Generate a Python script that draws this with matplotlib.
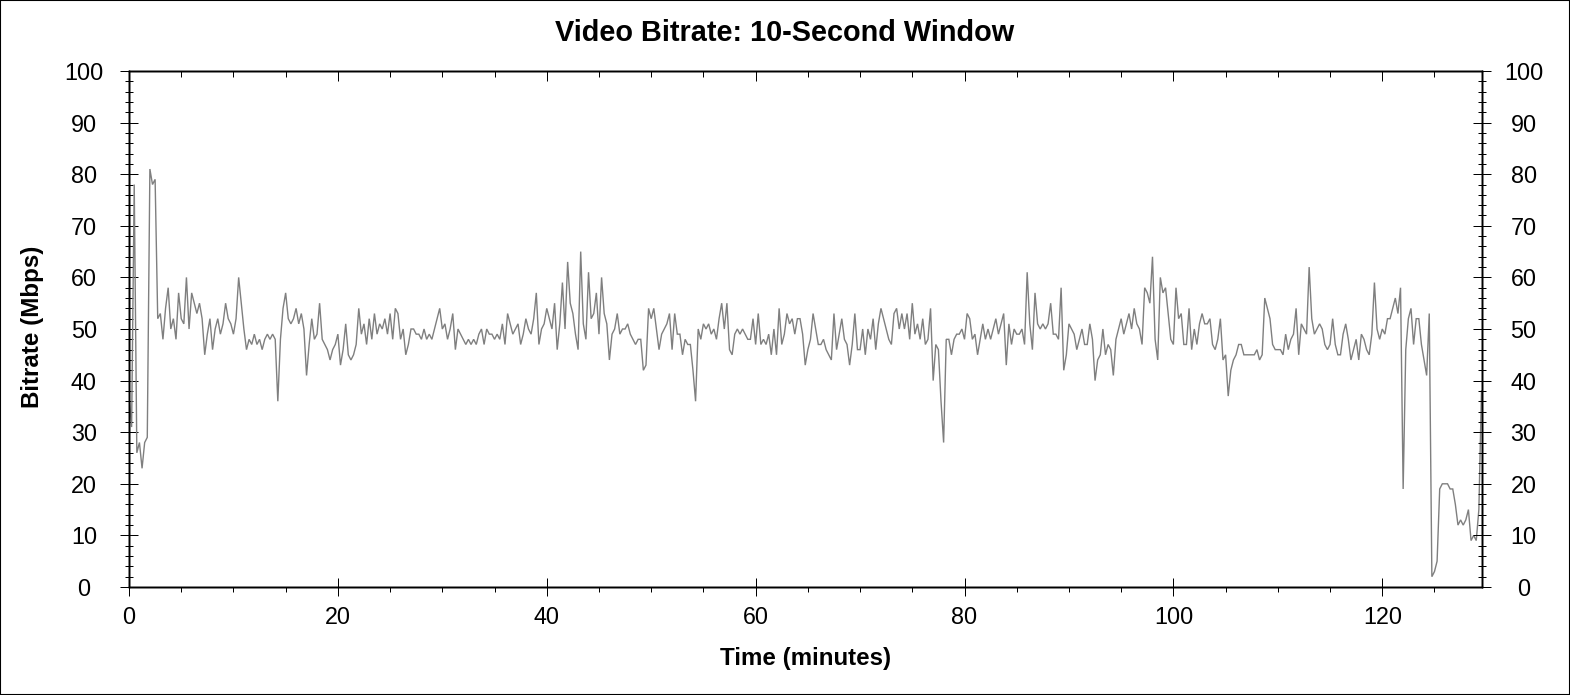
import numpy as np
import matplotlib
matplotlib.use("Agg")
import matplotlib.pyplot as plt
from matplotlib.ticker import MultipleLocator
from matplotlib.patches import Rectangle

plt.rcParams['font.family'] = ['Liberation Sans', 'DejaVu Sans']

# ---- data: 10-second-window bitrate (Mbps), sampled every 0.25 minute ----
step_minutes = 0.25
bitrate_00_10 = [37, 31, 78, 26, 28, 23, 28, 29, 81, 78, 79, 52, 53, 48, 54, 58,
                 50, 52, 48, 57, 52, 51, 60, 50, 57, 55, 53, 55, 52, 45, 49, 52,
                 46, 50, 52, 49, 51, 55, 52, 51]
bitrate_10_20 = [49, 52, 60, 55, 50, 46, 48, 47, 49, 47, 48, 46, 48, 49, 48, 49,
                 48, 36, 48, 54, 57, 52, 51, 52, 54, 51, 53, 50, 41, 47, 52, 48,
                 49, 55, 48, 47, 46, 44, 46, 47]
bitrate_20_30 = [49, 43, 46, 51, 45, 44, 45, 47, 54, 49, 51, 47, 52, 48, 53, 49,
                 51, 50, 52, 49, 53, 48, 54, 53, 48, 50, 45, 47, 50, 50, 49, 49,
                 48, 50, 48, 49, 48, 50, 52, 54]
bitrate_30_40 = [50, 51, 48, 50, 53, 46, 50, 49, 48, 47, 48, 47, 48, 47, 49, 50,
                 47, 50, 49, 49, 48, 49, 48, 51, 47, 53, 51, 49, 50, 51, 47, 49,
                 52, 50, 49, 52, 57, 47, 50, 51]
bitrate_40_50 = [54, 52, 50, 55, 46, 51, 59, 50, 63, 55, 53, 49, 46, 65, 51, 48,
                 61, 52, 53, 57, 49, 60, 53, 51, 44, 49, 50, 53, 49, 50, 50, 51,
                 49, 48, 47, 48, 48, 42, 43, 54]
bitrate_50_60 = [52, 54, 50, 46, 49, 50, 51, 53, 46, 53, 49, 49, 45, 48, 47, 47,
                 42, 36, 50, 48, 51, 50, 51, 49, 50, 48, 52, 55, 50, 55, 46, 45,
                 49, 50, 49, 50, 49, 48, 48, 52]
bitrate_60_70 = [47, 53, 47, 48, 47, 49, 45, 50, 45, 54, 47, 49, 53, 51, 52, 49,
                 52, 52, 49, 43, 46, 48, 53, 50, 47, 47, 48, 46, 45, 44, 53, 46,
                 49, 52, 48, 47, 43, 47, 53, 46]
bitrate_70_80 = [46, 50, 45, 50, 48, 52, 46, 51, 54, 52, 50, 48, 47, 53, 54, 50,
                 53, 50, 53, 48, 55, 49, 51, 48, 52, 47, 48, 54, 40, 47, 46, 36,
                 28, 48, 48, 45, 48, 49, 49, 50]
bitrate_80_90 = [48, 53, 52, 48, 49, 45, 48, 51, 48, 50, 48, 50, 52, 49, 51, 53,
                 43, 51, 47, 50, 49, 49, 50, 47, 61, 51, 46, 57, 51, 50, 51, 50,
                 51, 55, 49, 49, 48, 58, 42, 45]
bitrate_90_100 = [51, 50, 49, 46, 48, 50, 47, 47, 51, 48, 40, 44, 45, 50, 45, 47,
                  46, 41, 48, 50, 52, 49, 51, 53, 50, 54, 51, 50, 47, 58, 57, 55,
                  64, 48, 44, 60, 57, 58, 53, 48]
bitrate_100_110 = [47, 58, 52, 53, 47, 47, 54, 46, 50, 47, 51, 53, 51, 51, 52, 47,
                   46, 48, 52, 44, 45, 37, 42, 44, 45, 47, 47, 45, 45, 45, 45, 45,
                   46, 44, 45, 56, 54, 52, 47, 46]
bitrate_110_120 = [46, 46, 45, 49, 46, 48, 49, 54, 45, 51, 50, 49, 62, 52, 49, 50,
                   51, 50, 47, 46, 47, 52, 47, 45, 45, 49, 51, 48, 44, 46, 48, 44,
                   49, 48, 46, 45, 49, 59, 50, 48]
bitrate_120_end = [50, 49, 52, 52, 54, 56, 53, 58, 19, 46, 52, 54, 47, 52, 52, 47,
                   44, 41, 53, 2, 3, 5, 19, 20, 20, 20, 19, 19, 16, 12, 13, 12,
                   13, 15, 9, 10, 9, 15, 38]

bitrate = (bitrate_00_10 + bitrate_10_20 + bitrate_20_30 + bitrate_30_40 +
           bitrate_40_50 + bitrate_50_60 + bitrate_60_70 + bitrate_70_80 +
           bitrate_80_90 + bitrate_90_100 + bitrate_100_110 + bitrate_110_120 +
           bitrate_120_end)
time_min = np.arange(len(bitrate)) * step_minutes

x_major = [0, 20, 40, 60, 80, 100, 120]
y_major = [0, 10, 20, 30, 40, 50, 60, 70, 80, 90, 100]

title = "Video Bitrate: 10-Second Window"
xlabel = "Time (minutes)"
ylabel = "Bitrate (Mbps)"

# ---- figure ----
W, H = 1570, 695
fig = plt.figure(figsize=(W / 100, H / 100), dpi=100)
L, R, T, B = 129, 1482, 71, 587
ax = fig.add_axes([L / W, 1 - B / H, (R - L) / W, (B - T) / H])

ax.plot(time_min, bitrate, color='#7f7f7f', lw=1.0, solid_joinstyle='miter')
ax.set_xlim(0, 129.55)
ax.set_ylim(0, 100)

for s in ax.spines.values():
    s.set_linewidth(1.0)
    s.set_color('black')

tick_fs = 16.8
px = 0.72  # points per pixel

ax.set_xticks(x_major)
ax.set_xticklabels([str(v) for v in x_major], fontsize=tick_fs)
ax.xaxis.set_minor_locator(MultipleLocator(5))
ax.tick_params(axis='x', which='major', direction='inout', length=18 * px,
               width=1 * px, pad=7, bottom=True, top=False)
ax.tick_params(axis='x', which='minor', direction='out', length=4.5 * px,
               width=1 * px, bottom=True, top=False)

ax.set_yticks(y_major)
ax.set_yticklabels([str(v) for v in y_major], fontsize=tick_fs)
ax.yaxis.set_minor_locator(MultipleLocator(2))
ax.tick_params(axis='y', which='major', direction='inout', length=18 * px,
               width=1 * px, pad=26, left=True, right=False)
ax.tick_params(axis='y', which='minor', direction='inout', length=8 * px,
               width=1 * px, left=True, right=False)
for lbl in ax.get_yticklabels():
    lbl.set_horizontalalignment('center')

# top axis: ticks pointing inward only
axt = ax.twiny()
axt.set_xlim(ax.get_xlim())
axt.set_xticks(x_major)
axt.xaxis.set_minor_locator(MultipleLocator(5))
axt.tick_params(axis='x', which='major', direction='in', length=10 * px,
                width=1 * px, labeltop=False, top=True)
axt.tick_params(axis='x', which='minor', direction='in', length=6 * px,
                width=1 * px, top=True)

# right axis: ticks crossing, labels
axr = ax.twinx()
axr.set_ylim(ax.get_ylim())
axr.set_yticks(y_major)
axr.set_yticklabels([str(v) for v in y_major], fontsize=tick_fs)
axr.yaxis.set_minor_locator(MultipleLocator(2))
axr.tick_params(axis='y', which='major', direction='inout', length=18 * px,
                width=1 * px, pad=23.5, right=True)
axr.tick_params(axis='y', which='minor', direction='inout', length=8 * px,
                width=1 * px, right=True)
for lbl in axr.get_yticklabels():
    lbl.set_horizontalalignment('center')
for a in (axt, axr):
    for s in a.spines.values():
        s.set_linewidth(1.0)

fig.text(785 / W, 1 - 33 / H, title, ha='center', va='center',
         fontsize=20.8, fontweight='bold')
fig.text((L + R) / 2 / W, 1 - 659 / H, xlabel, ha='center', va='center',
         fontsize=17.4, fontweight='bold')
fig.text(33 / W, 1 - 327 / H, ylabel, ha='center', va='center',
         rotation=90, fontsize=17.4, fontweight='bold')

fig.patches.append(Rectangle((0, 0), 1, 1, transform=fig.transFigure,
                             fill=False, edgecolor='black', lw=1.5))

fig.savefig("out.png", dpi=100, facecolor='white')
